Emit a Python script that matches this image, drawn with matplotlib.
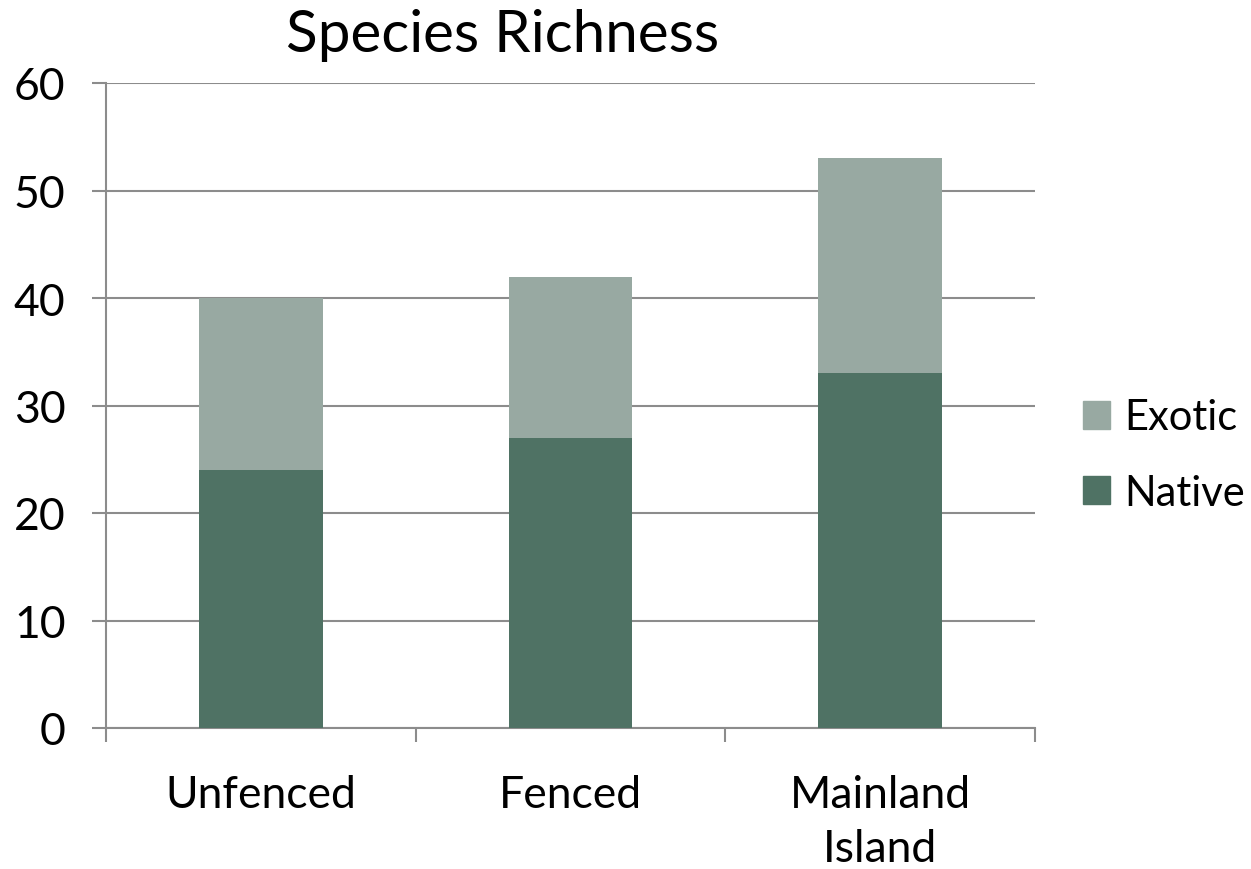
import numpy as np
import matplotlib.pyplot as plt
from matplotlib.patches import Patch

plt.rcParams['font.family'] = ['Lato', 'DejaVu Sans']

# Species counts per site
sites = ['Unfenced', 'Fenced', 'Mainland\nIsland']
native = [24, 27, 33]
exotic = [16, 15, 20]

native_color = '#4F7264'
exotic_color = '#98A9A2'
grid_color = '#8C8C8C'

fig = plt.figure(figsize=(12.51, 8.7), dpi=100)
ax = fig.add_axes([106 / 1251, 1 - 729 / 870, (1035 - 106) / 1251, (729 - 84) / 870])

x = np.arange(len(sites))
ax.bar(x, native, width=0.4, color=native_color, zorder=3)
ax.bar(x, exotic, width=0.4, bottom=native, color=exotic_color, zorder=3)

ax.set_xlim(-0.5, len(sites) - 0.5)
ax.set_ylim(0, 60)
ax.set_yticks(range(0, 61, 10))
ax.yaxis.grid(True, color=grid_color, linewidth=1.5, zorder=0)

# category labels centered, tick marks at category boundaries
ax.set_xticks(x)
ax.set_xticklabels(sites, fontsize=32, linespacing=1.4)
ax.set_xticks(np.arange(-0.5, len(sites), 1.0), minor=True)
ax.tick_params(axis='x', which='major', length=0, pad=33)
ax.tick_params(axis='x', which='minor', length=10, width=1.5, color=grid_color)
ax.tick_params(axis='y', length=10, width=1.5, color=grid_color, labelsize=32, pad=19)

for side in ['top', 'right']:
    ax.spines[side].set_visible(False)
for side in ['left', 'bottom']:
    ax.spines[side].set_color(grid_color)
    ax.spines[side].set_linewidth(1.5)

fig.text(503 / 1251, 1 - 35 / 870, 'Species Richness', fontsize=42, ha='center', va='center')

handles = [Patch(color=exotic_color, label='Exotic'), Patch(color=native_color, label='Native')]
fig.legend(handles=handles, loc='center left', bbox_to_anchor=(1083 / 1251, 1 - 456 / 870),
           frameon=False, fontsize=30, handlelength=0.65, handleheight=0.65,
           handletextpad=0.35, labelspacing=0.9, borderpad=0, borderaxespad=0)

fig.savefig('out.png', dpi=100)
